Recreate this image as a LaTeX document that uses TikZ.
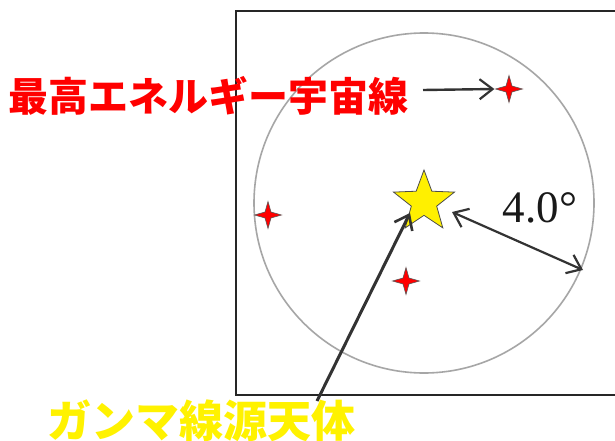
\documentclass[tikz,border=0pt]{standalone}
\usepackage{fontspec}
\setmainfont{Liberation Serif}
\newfontfamily\cjk{Noto Sans CJK JP}
\usetikzlibrary{shapes.geometric,arrows.meta}
\definecolor{arrgray}{HTML}{333333}
\definecolor{gammayellow}{HTML}{FFF200}
\definecolor{staryellow}{HTML}{FFF000}
\begin{document}
\begin{tikzpicture}[x=1pt,y=-1pt,
  frame/.style={draw=black!85, line width=1.8pt},
  fov/.style={draw=black!35, line width=1.6pt},
  barb/.tip={Straight Barb[length=13pt,width=20pt,line width=2.2pt]},
  arr/.style={draw=arrgray, line width=2.4pt, -barb},
  dblarr/.style={draw=arrgray, line width=2.2pt, barb-barb},
  longarr/.style={draw=arrgray, line width=3pt, -{Straight Barb[length=13pt,width=20pt,line width=2.6pt]}},
  sparkle/.style={star, star points=4, star point ratio=3.2, minimum size=27pt, inner sep=0pt, fill=red, draw=black!65, line width=0.6pt},
  srcstar/.style={star, star points=5, star point ratio=2.4, minimum size=64pt, inner sep=0pt, fill=staryellow, draw=black!70, line width=0.8pt},
  redlabel/.style={text=red, inner sep=0pt, font=\cjk\bfseries\fontsize{40}{40}\selectfont},
  yellowlabel/.style={text=gammayellow, inner sep=0pt, font=\cjk\bfseries\fontsize{44}{44}\selectfont},
  anglelabel/.style={text=black!90, inner sep=0pt, font=\fontsize{45}{45}\selectfont}
]
\useasboundingbox (0,0) rectangle (615,441);
\fill[white] (0,0) rectangle (615,441);

% frame and field of view
\draw[frame] (236,11) rectangle (630,395);
\coordinate (c) at (424,203);
\draw[fov] (c) circle[radius=170];

% sources
\node[sparkle] (sp1) at (509,89) {};
\node[sparkle] (sp2) at (268,215) {};
\node[sparkle] (sp3) at (406,281) {};
\node[srcstar] (src) at (424,202) {};

% labels
\node[redlabel, anchor=base west] (uhecr) at (8,112) {最高エネルギー宇宙線};
\node[yellowlabel, anchor=base west] (gamma) at (47,437) {ガンマ線源天体};
\node[anglelabel, anchor=base] (ang) at (540,222) {4.0°};

% connectors
\coordinate (uhecrarrow) at (423,90);
\draw[arr] (uhecrarrow) -- (sp1.west);

\coordinate (rim) at (583,270);
\coordinate (srcedge) at (452,212);
\draw[dblarr] (srcedge) -- (rim);

\coordinate (tail) at (317,401);
\coordinate (head) at (410,213);
\draw[longarr] (tail) -- (head);
\end{tikzpicture}
\end{document}
